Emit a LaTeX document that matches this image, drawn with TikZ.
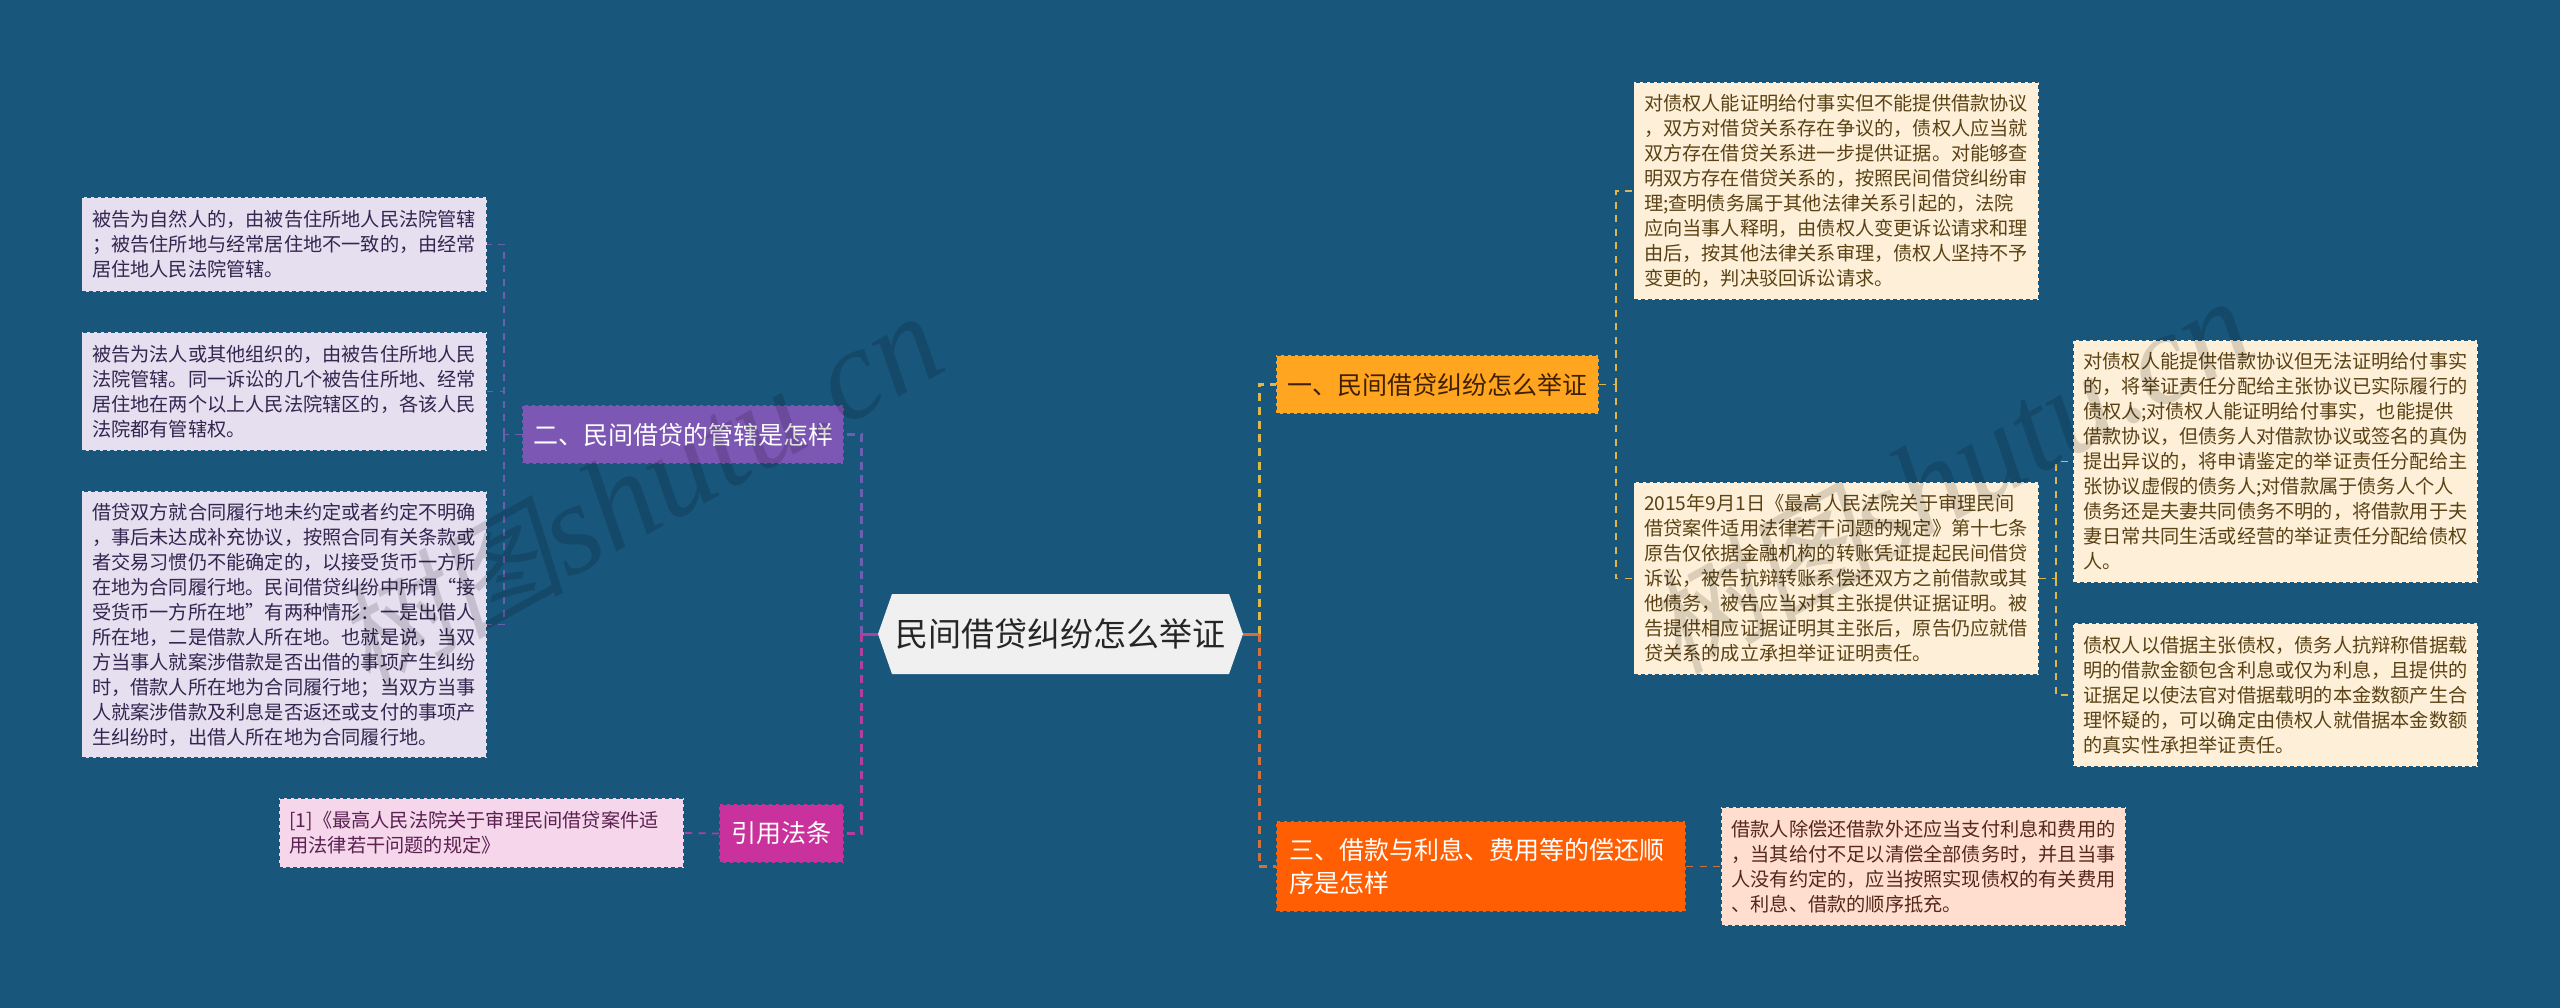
\documentclass[tikz,border=0pt]{standalone}
\usepackage{fontspec}
\setmainfont{Noto Sans CJK SC}
\newfontfamily\wmcjk[FakeSlant=0.2]{Noto Sans CJK SC}
\newfontfamily\wmlat{Liberation Serif}[ItalicFont=* Italic]
\definecolor{bgc}{HTML}{19567C}
\definecolor{lilacf}{HTML}{E5DFF0}
\definecolor{lilact}{HTML}{33264F}
\definecolor{creamf}{HTML}{FEF0D8}
\definecolor{creamt}{HTML}{5A4215}
\definecolor{pinkf}{HTML}{F5D6EB}
\definecolor{pinkt}{HTML}{5A2050}
\definecolor{salmonf}{HTML}{FFDED0}
\definecolor{salmont}{HTML}{55281A}
\definecolor{orangef}{HTML}{FFA51F}
\definecolor{purplef}{HTML}{7D57B4}
\definecolor{magentaf}{HTML}{C9329C}
\definecolor{redf}{HTML}{FF5E03}
\definecolor{rootf}{HTML}{F0F0F0}
\definecolor{cyellow}{HTML}{DDB64E}
\definecolor{corange}{HTML}{D2703C}
\definecolor{cpurple}{HTML}{6C5FB0}
\definecolor{cmagenta}{HTML}{B23FA0}
\tikzset{
  x=1pt,y=-1pt,
  boxbase/.style={anchor=north west,outer sep=0pt,inner ysep=0pt,draw=bgc,line width=1.5pt,dash pattern=on 4pt off 3pt},
  leafbox/.style={boxbase,inner xsep=10.5pt,text width=384pt,align=left,font=\fontsize{19.2pt}{25pt}\selectfont,fill=#1f,text=#1t},
  branchbox/.style={boxbase,inner xsep=0pt,align=center,font=\fontsize{25pt}{33pt}\selectfont,fill=#1f},
  lineA/.style={line width=3pt,dash pattern=on 8pt off 5.7pt},
  lineB/.style={line width=1.7pt,dash pattern=on 7pt off 6.5pt},
  stubline/.style={line width=3pt,solid},
  wmark/.style={rotate=29,text=black,text opacity=0.14,font=\fontsize{130pt}{130pt}\selectfont}
}
\begin{document}
\begin{tikzpicture}
\useasboundingbox (0,0) rectangle (2560,1008);
\fill[bgc] (0,0) rectangle (2560,1008);
% root
\fill[rootf] (878,634) -- (892,594) -- (1229,594) -- (1243,634) -- (1229,674) -- (892,674) -- cycle;
\node[outer sep=0pt,inner sep=0pt,minimum width=365pt,minimum height=80pt,text=black!85,font=\fontsize{33pt}{40pt}\selectfont] (root) at (1060.5,634) {民间借贷纠纷怎么举证};
% branches
\node[branchbox=orange,text=black!75!orange,minimum width=323pt,minimum height=59pt] (b1) at (1276,355) {一、民间借贷纠纷怎么举证};
\node[branchbox=purple,text=white,minimum width=322pt,minimum height=59pt] (b2) at (522,405) {二、民间借贷的管辖是怎样};
\node[branchbox=red,text=white,inner xsep=13pt,text width=384pt,align=left,minimum height=91pt] (b3) at (1276,821) {三、借款与利息、费用等的偿还顺\\序是怎样};
\node[branchbox=magenta,text=white,minimum width=125pt,minimum height=59pt] (yin) at (719,804) {引用法条};
% left leaves
\node[leafbox=lilac,minimum height=95pt] (l1) at (81.5,197) {被告为自然人的，由被告住所地人民法院管辖\\；被告住所地与经常居住地不一致的，由经常\\居住地人民法院管辖。};
\node[leafbox=lilac,minimum height=119pt] (l2) at (81.5,332) {被告为法人或其他组织的，由被告住所地人民\\法院管辖。同一诉讼的几个被告住所地、经常\\居住地在两个以上人民法院辖区的，各该人民\\法院都有管辖权。};
\node[leafbox=lilac,minimum height=267pt] (l3) at (81.5,491) {借贷双方就合同履行地未约定或者约定不明确\\，事后未达成补充协议，按照合同有关条款或\\者交易习惯仍不能确定的，以接受货币一方所\\在地为合同履行地。民间借贷纠纷中所谓“接\\受货币一方所在地”有两种情形：一是出借人\\所在地，二是借款人所在地。也就是说，当双\\方当事人就案涉借款是否出借的事项产生纠纷\\时，借款人所在地为合同履行地；当双方当事\\人就案涉借款及利息是否返还或支付的事项产\\生纠纷时，出借人所在地为合同履行地。};
\node[leafbox=pink,minimum height=70pt] (p1) at (279,798) {[1]《最高人民法院关于审理民间借贷案件适\\用法律若干问题的规定》};
% right leaves
\node[leafbox=cream,minimum height=218pt] (r1) at (1633.5,82) {对债权人能证明给付事实但不能提供借款协议\\，双方对借贷关系存在争议的，债权人应当就\\双方存在借贷关系进一步提供证据。对能够查\\明双方存在借贷关系的，按照民间借贷纠纷审\\理;查明债务属于其他法律关系引起的，法院\\应向当事人释明，由债权人变更诉讼请求和理\\由后，按其他法律关系审理，债权人坚持不予\\变更的，判决驳回诉讼请求。};
\node[leafbox=cream,minimum height=193pt] (r2) at (1633.5,482) {2015年9月1日《最高人民法院关于审理民间\\借贷案件适用法律若干问题的规定》第十七条\\原告仅依据金融机构的转账凭证提起民间借贷\\诉讼，被告抗辩转账系偿还双方之前借款或其\\他债务，被告应当对其主张提供证据证明。被\\告提供相应证据证明其主张后，原告仍应就借\\贷关系的成立承担举证证明责任。};
\node[leafbox=cream,minimum height=243pt] (r3) at (2073,340) {对债权人能提供借款协议但无法证明给付事实\\的，将举证责任分配给主张协议已实际履行的\\债权人;对债权人能证明给付事实，也能提供\\借款协议，但债务人对借款协议或签名的真伪\\提出异议的，将申请鉴定的举证责任分配给主\\张协议虚假的债务人;对借款属于债务人个人\\债务还是夫妻共同债务不明的，将借款用于夫\\妻日常共同生活或经营的举证责任分配给债权\\人。};
\node[leafbox=cream,minimum height=144pt] (r4) at (2073,623) {债权人以借据主张债权，债务人抗辩称借据载\\明的借款金额包含利息或仅为利息，且提供的\\证据足以使法官对借据载明的本金数额产生合\\理怀疑的，可以确定由债权人就借据本金数额\\的真实性承担举证责任。};
\node[leafbox=salmon,minimum height=119pt] (r5) at (1721,807) {借款人除偿还借款外还应当支付利息和费用的\\，当其给付不足以清偿全部债务时，并且当事\\人没有约定的，应当按照实现债权的有关费用\\、利息、借款的顺序抵充。};
% junctions
\coordinate (jr) at (1259,634);
\coordinate (jl) at (861,634);
\coordinate (j1) at (1616,384.5);
\coordinate (j2) at (2056,578.5);
\coordinate (j3) at (504,434.5);
% connectors
\draw[lineA,cyellow] (jr) |- (b1.west);
\draw[lineA,corange] (jr) |- (b3.west);
\draw[stubline,corange] (root.east) -- (jr);
\draw[lineA,cpurple] (jl) |- (b2.east);
\draw[lineA,cmagenta] (jl) |- (yin.east);
\draw[stubline,cmagenta] (root.west) -- (jl);
\draw[lineB,cyellow] (b1.east) -- (j1);
\draw[lineB,cyellow] (j1) |- (r1.west);
\draw[lineB,cyellow] (j1) |- (r2.west);
\draw[lineB,cyellow] (r2.east) -- (j2);
\draw[lineB,cyellow] (j2) |- (r3.west);
\draw[lineB,cyellow] (j2) |- (r4.west);
\draw[lineB,corange] (b3.east) -- (r5.west);
\draw[lineB,cpurple] (b2.west) -- (j3);
\draw[lineB,cpurple] (j3) |- (l1.east);
\draw[lineB,cpurple] (j3) |- (l2.east);
\draw[lineB,cpurple] (j3) |- (l3.east);
\draw[lineB,cmagenta] (yin.west) -- (p1.east);
% watermarks
\node[wmark] (wm1) at (638,491) {{\wmcjk\fontsize{115pt}{130pt}\selectfont 树图}{\wmlat\itshape shutu.cn}};
\node[wmark] (wm2) at (1948,476) {{\wmcjk\fontsize{115pt}{130pt}\selectfont 树图}{\wmlat\itshape shutu.cn}};
\end{tikzpicture}
\end{document}
